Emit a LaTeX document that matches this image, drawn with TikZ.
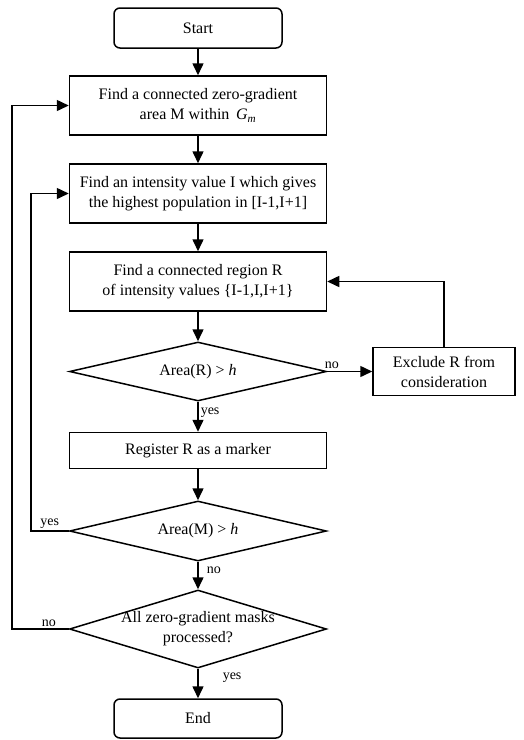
\documentclass[tikz,border=0pt]{standalone}
\usepackage{fontspec}
\setmainfont{Liberation Serif}
\usetikzlibrary{shapes.geometric,arrows.meta,positioning}

\tikzset{
    process/.style={draw,rectangle,minimum width=257pt,minimum height=59pt,align=center,font=\fontsize{16}{20}\selectfont},
    terminal/.style={process,rounded corners=6pt,minimum width=168pt,minimum height=40pt},
    decision/.style={draw,diamond,aspect=3.3,inner xsep=-30pt,inner ysep=-4pt,minimum width=257pt,align=center,font=\fontsize{16}{20}\selectfont},
    lbl/.style={font=\fontsize{14}{16}\selectfont,inner sep=2pt}
}

\begin{document}
\begin{tikzpicture}[->,>={Triangle[length=12pt,width=11pt]},line width=1.5pt,node distance=88pt]
    \useasboundingbox (0,0) rectangle (524pt,-740pt);

    \node [terminal] (start) at (198pt,-28pt) {Start};
    \node [process,below of = start,yshift=10.5pt] (findm) {Find a connected zero-gradient\\area M within \,\textit{G}\textsubscript{\textit{m}}};
    \node [process,below of = findm] (findi) {Find an intensity value I which gives\\the highest population in [I-1,I+1]};
    \node [process,below of = findi] (findr) {Find a connected region R\\of intensity values \{I-1,I,I+1\}};
    \node [decision,below of = findr,yshift=-2pt,minimum height=59pt] (arear) {Area(R) > \textit{h}};
    \node [process,right of = arear,xshift=158pt,minimum width=142pt,minimum height=48pt] (excl) {Exclude R from\\consideration};
    \node [process,below of = arear,yshift=9pt,minimum height=36pt] (reg) {Register R as a marker};
    \node [decision,below of = reg,yshift=7.5pt,minimum height=60pt] (aream) {Area(M) > \textit{h}};
    \node [decision,below of = aream,yshift=-10pt,minimum height=78pt] (done) {All zero-gradient masks\\processed?};
    \node [terminal,below of = done,yshift=-1.5pt,minimum height=39pt] (end) {End};

    \path
        (start) edge (findm)
        (findm) edge (findi)
        (findi) edge (findr)
        (findr) edge (arear)
        (arear) edge node[lbl,pos=0.35,right] {yes} (reg)
        (arear) edge node[lbl,pos=0.1,above] {no} (excl)
        (reg) edge (aream)
        (aream) edge node[lbl,pos=0.3,right,xshift=6pt] {no} (done)
        (done) edge node[lbl,pos=0.3,right,xshift=22pt] {yes} (end)
    ;

    \draw (excl.north) |- (findr.east);
    \draw (aream.west) -- node[lbl,above] {yes} ++(-38pt,0) |- (findi.west);
    \draw (done.west) -- node[lbl,pos=0.35,above] {no} ++(-57pt,0) |- (findm.west);
\end{tikzpicture}
\end{document}
